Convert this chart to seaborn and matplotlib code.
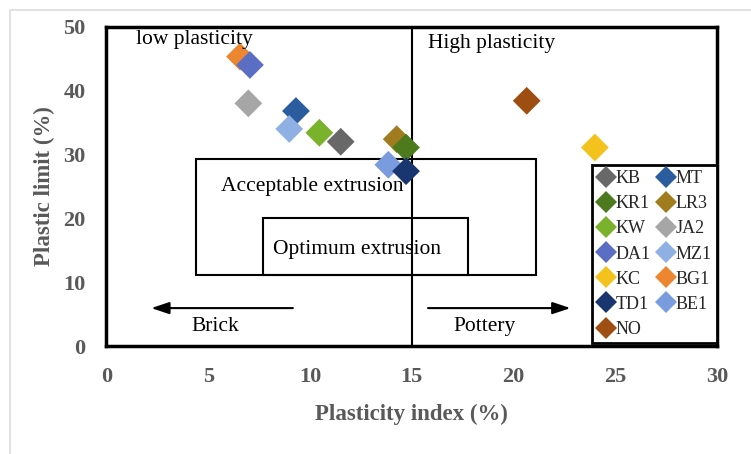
import matplotlib
matplotlib.use("Agg")
import matplotlib.pyplot as plt
from matplotlib.lines import Line2D
from matplotlib.patches import Rectangle
import pandas as pd
import seaborn as sns

# Soil samples: plasticity index (%) and plastic limit (%)
samples = ["BG1", "LR3", "BE1", "KB", "KR1", "KW", "DA1", "KC", "TD1", "NO",
           "MT", "JA2", "MZ1"]
plasticity_index = [6.56, 14.26, 13.85, 11.51, 14.72, 10.46, 7.05, 24.0, 14.72,
                    20.65, 9.31, 6.97, 8.98]
plastic_limit = [45.3, 32.4, 28.4, 32.0, 31.1, 33.4, 44.0, 31.1, 27.4,
                 38.4, 36.8, 38.0, 34.0]

legend_order = ["KB", "KR1", "KW", "DA1", "KC", "TD1", "NO",
                "MT", "LR3", "JA2", "MZ1", "BG1", "BE1"]
sample_colors = {
    "KB": "#686868", "KR1": "#4C7A1C", "KW": "#7AB22C", "DA1": "#5A6EC4",
    "KC": "#F4C21C", "TD1": "#1A3670", "NO": "#9E4E10", "MT": "#2A5C9E",
    "LR3": "#A07C1E", "JA2": "#A6A6A6", "MZ1": "#8EB0E2", "BG1": "#EC8630",
    "BE1": "#7A9CDE",
}

x_ticks = [0, 5, 10, 15, 20, 25, 30]
y_ticks = [0, 10, 20, 30, 40, 50]

# Extrusion zones (PI range, PL range)
acceptable_pi = (4.38, 21.1)
acceptable_pl = (11.1, 29.3)
optimum_pi = (7.7, 17.75)
optimum_pl = (11.1, 20.1)

df = pd.DataFrame({"sample": samples, "PI": plasticity_index, "PL": plastic_limit})

sns.set_theme(style="white")
plt.rcParams["font.family"] = ["Liberation Serif", "DejaVu Serif"]

fig = plt.figure(figsize=(7.51, 4.54), dpi=100)
fig.patch.set_facecolor("white")
ax = fig.add_axes([0.1418, 0.2368, 0.8129, 0.7047])

sns.scatterplot(data=df, x="PI", y="PL", hue="sample", hue_order=legend_order,
                palette=sample_colors, marker="D", s=200, linewidth=0,
                ax=ax, zorder=3)

ax.set_xlim(0, 30)
ax.set_ylim(0, 50)
ax.set_xticks(x_ticks)
ax.set_yticks(y_ticks)
ax.tick_params(length=0, pad=15, labelsize=16, labelcolor="#595959")
for lab in ax.get_xticklabels() + ax.get_yticklabels():
    lab.set_fontweight("bold")
ax.set_xlabel("Plasticity index (%)", fontsize=16.5, fontweight="bold",
              color="#595959", labelpad=12)
ax.set_ylabel("Plastic limit (%)", fontsize=16.5, fontweight="bold",
              color="#595959", labelpad=6)
for sp in ax.spines.values():
    sp.set_color("black")
    sp.set_linewidth(2.5)

# Low / high plasticity divider
ax.axvline(15, color="black", lw=1.5, zorder=2)

# Extrusion zone boxes
ax.add_patch(Rectangle((acceptable_pi[0], acceptable_pl[0]),
                       acceptable_pi[1] - acceptable_pi[0],
                       acceptable_pl[1] - acceptable_pl[0],
                       fill=False, ec="black", lw=1.5, zorder=2))
ax.add_patch(Rectangle((optimum_pi[0], optimum_pl[0]),
                       optimum_pi[1] - optimum_pi[0],
                       optimum_pl[1] - optimum_pl[0],
                       fill=False, ec="black", lw=1.5, zorder=2))

txt = dict(fontsize=15.5, color="black", ha="center", va="center")
ax.text(4.3, 47.9, "low plasticity", **txt)
ax.text(18.9, 47.4, "High plasticity", **txt)
ax.text(10.1, 25.0, "Acceptable extrusion", zorder=4, **txt)
ax.text(12.3, 15.2, "Optimum extrusion", **txt)
ax.text(5.33, 3.1, "Brick", **txt)
ax.text(18.6, 3.1, "Pottery", **txt)

arrow = dict(arrowstyle="-|>,head_length=0.9,head_width=0.3", color="black",
             lw=1.5, shrinkA=0, shrinkB=0)
ax.annotate("", xy=(2.2, 6.0), xytext=(9.16, 6.0), arrowprops=arrow)
ax.annotate("", xy=(22.8, 6.0), xytext=(15.8, 6.0), arrowprops=arrow)

handles, labels = ax.get_legend_handles_labels()
for h in handles:
    h.set_markersize(11.5)
leg = ax.legend(handles, labels, ncol=2, loc="lower right",
                bbox_to_anchor=(1.0, 0.01), fontsize=13, frameon=True,
                fancybox=False, edgecolor="black", framealpha=1, borderpad=0.3,
                labelspacing=0.45, handletextpad=0.05, columnspacing=0.3,
                handlelength=1.0, borderaxespad=0.0)
leg.get_frame().set_linewidth(2)

# Page border lines
fig.add_artist(Line2D([9.5 / 751, 9.5 / 751], [0, 1 - 9.5 / 454],
                      transform=fig.transFigure, color="#E2E2E2", lw=1.5))
fig.add_artist(Line2D([9.5 / 751, 1], [1 - 9.5 / 454, 1 - 9.5 / 454],
                      transform=fig.transFigure, color="#E2E2E2", lw=1.5))

fig.savefig("out.png", dpi=100, facecolor="white")
